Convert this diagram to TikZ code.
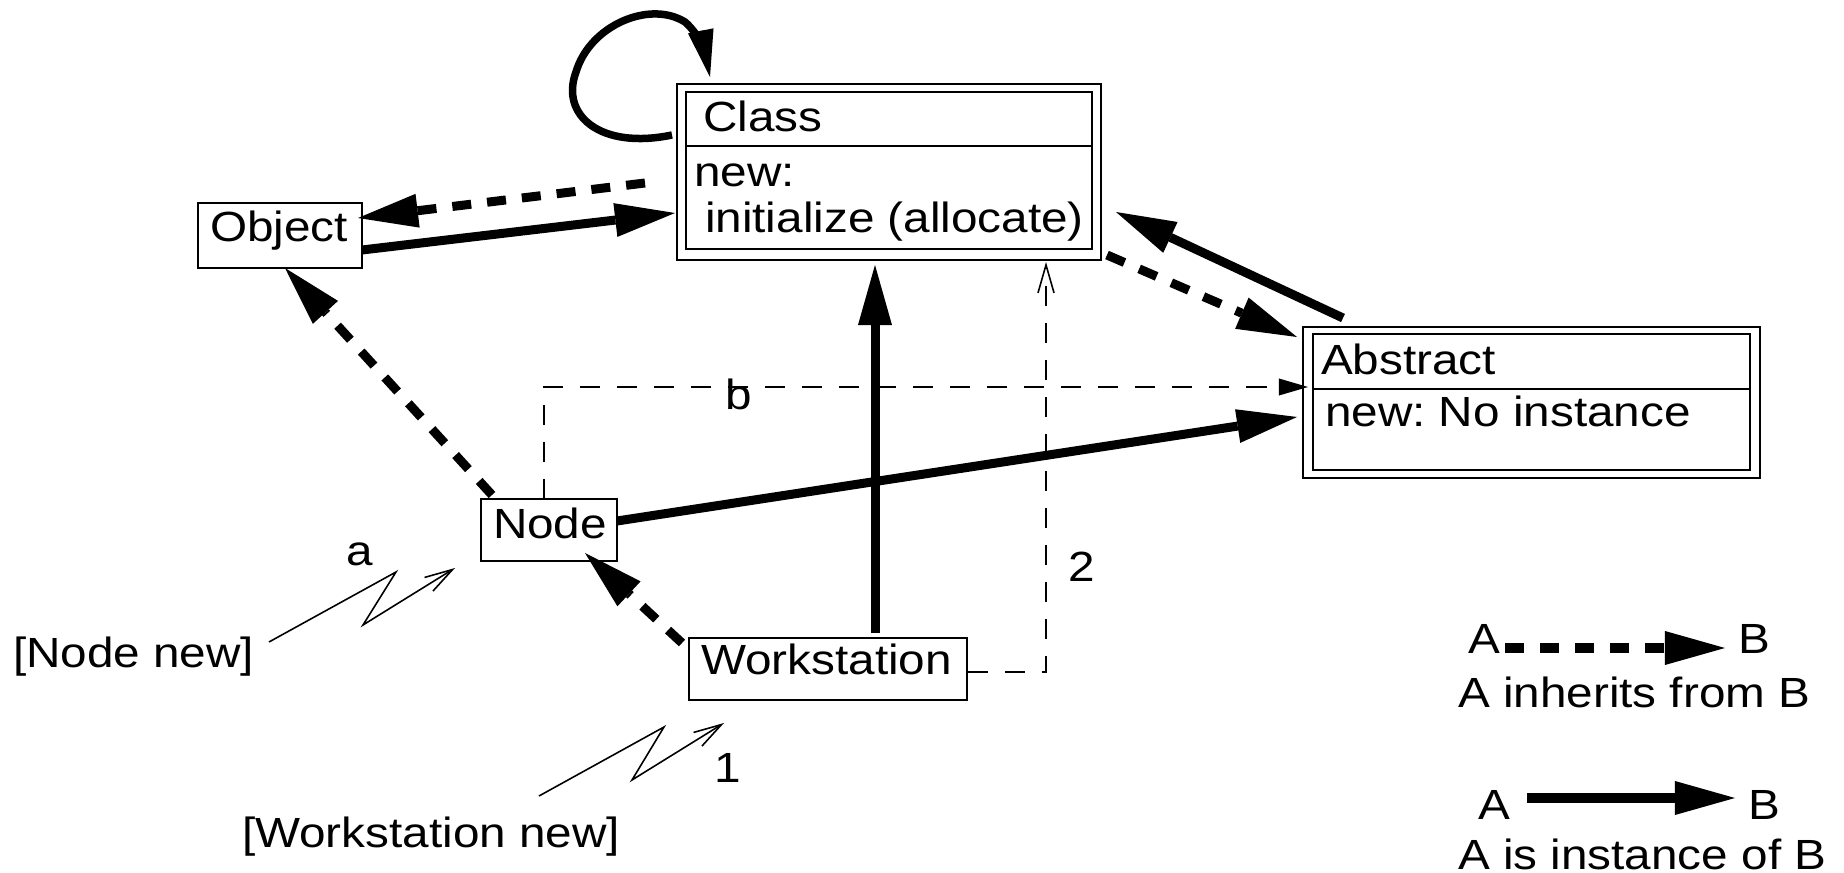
\documentclass[tikz,border=0pt]{standalone}
\usepackage{fontspec}
\setmainfont[FakeStretch=1.13]{Liberation Sans}
\usetikzlibrary{arrows.meta}
\frenchspacing
\begin{document}
\frenchspacing
\begin{tikzpicture}[x=0.01cm,y=-0.01cm,
  every node/.style={font=\fontsize{12}{14}\selectfont\frenchspacing, inner sep=0pt, outer sep=0pt},
  box/.style={draw, line width=0.45pt, rectangle, inner sep=0pt},
  txt/.style={anchor=base west},
  bighead/.style={-{Triangle[length=6mm,width=3.4mm,line width=0pt]}},
  inst/.style={line width=0.9mm, bighead},
  inh/.style={line width=0.9mm, dash pattern=on 1.9mm off 1.6mm, bighead},
  thin/.style={line width=0.45pt},
  thindash/.style={line width=0.45pt, dash pattern=on 2mm off 1.7mm},
  openhead/.style={-{Straight Barb[length=2.8mm,width=1.6mm]}},
  smallhead/.style={-{Triangle[length=2.9mm,width=1.7mm,line width=0pt]}},
  ]
\useasboundingbox (0,0) rectangle (1844,873);

% Class box
\node[box, minimum width=4.24cm, minimum height=1.76cm] (classO) at (889,172) {};
\node[box, minimum width=4.06cm, minimum height=1.57cm] (classI) at (889,170.5) {};
\draw[thin] (classI.west |- 0,146) -- (classI.east |- 0,146);
\node[txt] (tclass) at (703,132) {Class};
\node[txt] (tnew) at (694,187) {new:};
\node[txt] (tinit) at (705,233) {initialize (allocate)};

% Object box
\node[box, minimum width=1.64cm, minimum height=0.65cm] (obj) at (280,235.5) {};
\node[txt] (tobj) at (210,242) {Object};

% Abstract box
\node[box, minimum width=4.57cm, minimum height=1.51cm] (absO) at (1531.5,402.5) {};
\node[box, minimum width=4.37cm, minimum height=1.36cm] (absI) at (1531.5,402) {};
\draw[thin] (absI.west |- 0,389) -- (absI.east |- 0,389);
\node[txt] (tabs) at (1321,375) {Abstract};
\node[txt] (tabsnew) at (1325,427) {new: No instance};

% Node box
\node[box, minimum width=1.36cm, minimum height=0.62cm] (nodeb) at (549,530) {};
\node[txt] (tnode) at (493,538) {Node};

% Workstation box
\node[box, minimum width=2.78cm, minimum height=0.62cm] (ws) at (828,669) {};
\node[txt] (tws) at (701,675) {Workstation};

% connector end points
\coordinate (o1) at (362,250);  \coordinate (c1) at (675,213);
\coordinate (c2) at (645,183);  \coordinate (o2) at (358,218);
\coordinate (n1) at (492,495);  \coordinate (o3) at (285,268);
\coordinate (n2) at (617,521);  \coordinate (a1) at (1297,417);
\coordinate (w1) at (682,643);  \coordinate (n3) at (585,553);
\coordinate (w2) at (875,633);  \coordinate (c3) at (875,265);
\coordinate (c4) at (1107,255); \coordinate (a2) at (1297,337);
\coordinate (a3) at (1343,318); \coordinate (c5) at (1116,212);
\coordinate (l0) at (672,135);  \coordinate (l1) at (710,77);

% instance / inheritance arrows
\draw[inst] (o1) -- (c1);
\draw[inh] (c2) -- (o2);
\draw[inh] (n1) -- (o3);
\draw[inst] (n2) -- (a1);
\draw[inh] (w1) -- (n3);
\draw[inst] (w2) -- (c3);
\draw[inh] (c4) -- (a2);
\draw[inst] (a3) -- (c5);

% self loop on Class
\draw[line width=0.75mm, -{Triangle[length=4.7mm,width=2.6mm,line width=0pt]}]
  (l0) .. controls (600,150) and (560,115) .. (576,72)
       .. controls (590,25) and (650,0) .. (685,22)
       .. controls (697,32) and (705,52) .. (l1);

% thin dashed message lines
\coordinate (bcorner) at (544,387);
\coordinate (btip) at (1308,387);
\draw[thindash, smallhead] (nodeb.north -| bcorner) -- (bcorner) -- (btip);
\coordinate (wsr) at (968,672);
\coordinate (tcorner) at (1046,672);
\coordinate (ttip) at (1046,262);
\draw[thindash, openhead] (wsr) -- (tcorner) -- (ttip);

\node[txt] (lb) at (725,410) {b};
\node[txt] (l2) at (1068,582) {2};

% lightning messages
\node[txt] (nn) at (13,667) {[Node new]};
\node[txt] (wn) at (242,847) {[Workstation new]};
\coordinate (z1s) at (269,642);
\coordinate (z1e) at (455,568);
\draw[thin, openhead] (z1s) -- (396,572) -- (363,625) -- (z1e);
\coordinate (z2s) at (539,796);
\coordinate (z2e) at (724,723);
\draw[thin, openhead] (z2s) -- (664,727) -- (632,780) -- (z2e);
\node[txt] (la) at (346,565) {a};
\node[txt] (l1t) at (714,782) {1};

% legend
\node[txt] (lgA1) at (1468,653) {A};
\node[txt] (lgB1) at (1738,653) {B};
\coordinate (lg1s) at (1505,648);
\coordinate (lg1e) at (1725,648);
\draw[inh] (lg1s) -- (lg1e);
\node[txt] (lgt1) at (1458,708) {A inherits from B};
\node[txt] (lgA2) at (1478,820) {A};
\node[txt] (lgB2) at (1748,820) {B};
\coordinate (lg2s) at (1527,798);
\coordinate (lg2e) at (1735,798);
\draw[inst] (lg2s) -- (lg2e);
\node[txt] (lgt2) at (1458,869) {A is instance of B};
\end{tikzpicture}
\end{document}
